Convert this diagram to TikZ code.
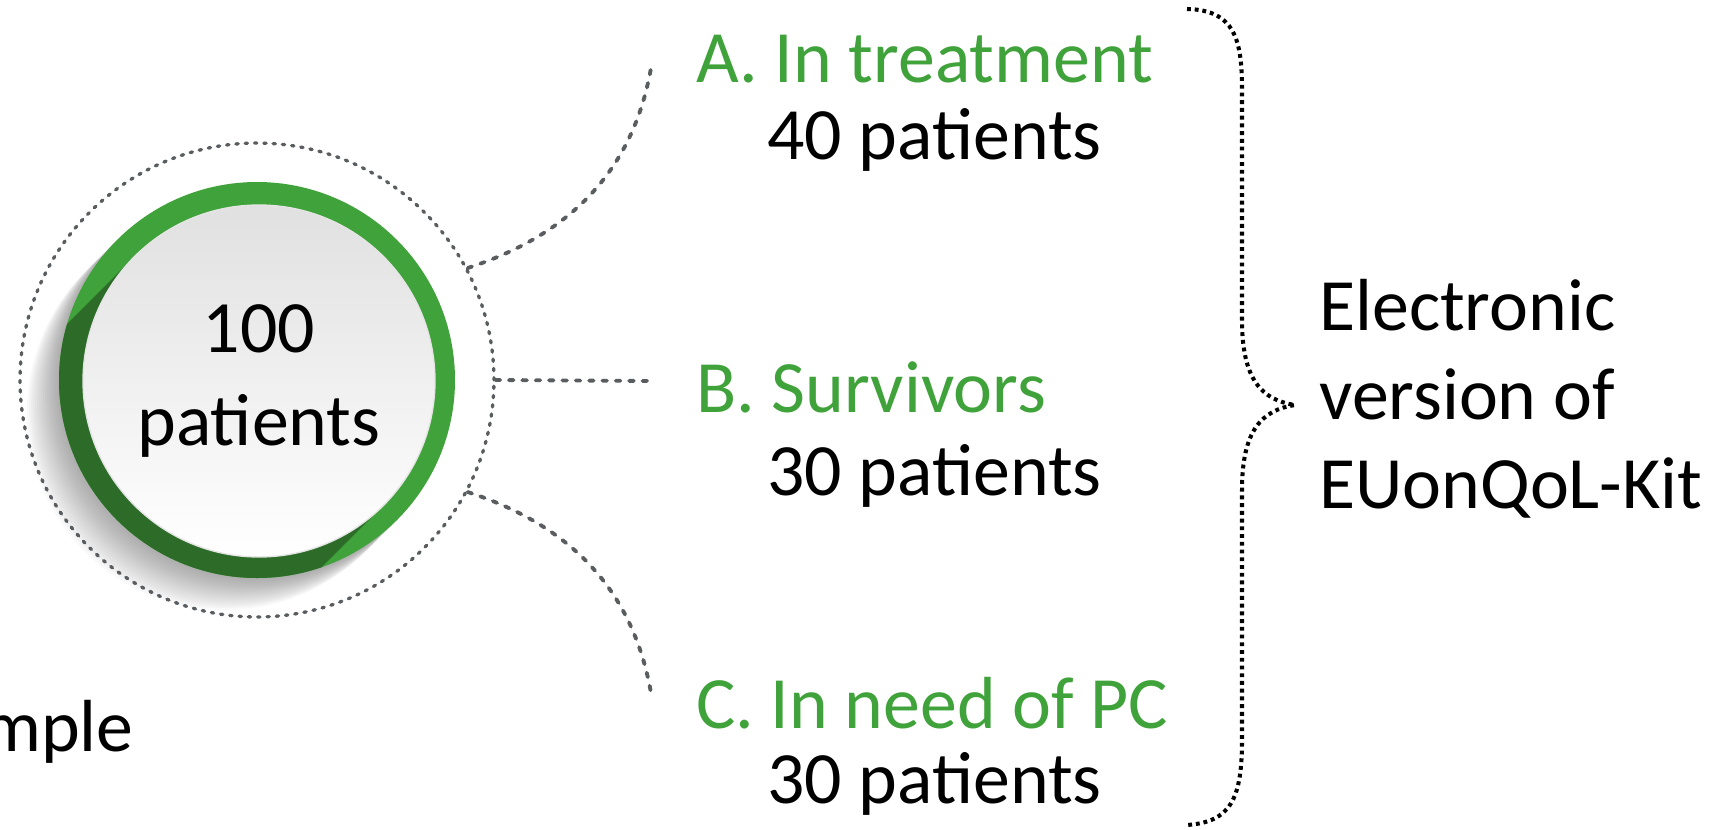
\documentclass[tikz,border=0pt]{standalone}
\usepackage{fontspec}
\setmainfont{Carlito}
\definecolor{ringgreen}{HTML}{40A23A}
\definecolor{shadegreen}{HTML}{2D6C28}
\definecolor{linkgray}{HTML}{595D60}
\tikzset{
  txt/.style={font=\fontsize{42}{50}\selectfont, inner sep=0pt, anchor=base west},
  grp/.style={txt, text=ringgreen},
  lnk/.style={draw=linkgray, line width=2.2pt, line cap=round, dash pattern=on 2.6pt off 5pt},
  ringdots/.style={draw=linkgray, line width=1.9pt, line cap=round, dash pattern=on 1.3pt off 4pt},
  bracedots/.style={draw=black, line width=2.3pt, dash pattern=on 2.2pt off 2.2pt}
}
\begin{document}
\begin{tikzpicture}[x=0.02cm, y=0.02cm]
  \useasboundingbox (0,0) rectangle (1724,-829);
  % soft shadow under the ring
  \foreach \k in {1,...,16}
    \fill[black, opacity=0.022] (257-2*\k,-380-2*\k) circle (198);
  \fill[ringgreen] (257,-380) circle (198);
  \begin{scope}
    \clip (257,-380) circle (198);
    \fill[shadegreen] (259,-381) ++(135:176) -- ++(225:160)
      arc[start angle=135, end angle=315, radius=176] -- ++(45:160) -- cycle;
  \end{scope}
  \node[circle, minimum size=7.04cm, inner sep=0pt, top color=gray!24, bottom color=white,
    draw=gray!20, line width=0.8pt, align=center, font=\fontsize{42}{49}\selectfont]
    (ctr) at (259,-381) {\raisebox{4pt}{100}\\patients};
  \node[circle, ringdots, minimum size=9.48cm, inner sep=0pt] (ring) at (257,-380) {};

  % links to the groups
  \coordinate (endA) at (651,-68);
  \coordinate (endB) at (653,-381);
  \coordinate (endC) at (651,-693);
  \draw[lnk] (ring.28) to[out=18, in=-100] (endA);
  \draw[lnk] (ring.east) -- (endB);
  \draw[lnk] (ring.-28) to[out=-18, in=100] (endC);

  \node[grp] (A) at (696,-82) {A. In treatment};
  \node[txt] (nA) at (767,-159) {40 patients};
  \node[grp] (B) at (696,-412) {B. Survivors};
  \node[txt] (nB) at (767,-495) {30 patients};
  \node[grp] (C) at (696,-728) {C. In need of PC};
  \node[txt] (nC) at (767,-803) {30 patients};
  \node[txt, align=left, font=\fontsize{42}{50.5}\selectfont] (kit) at (1319,-508) {Electronic\\version of\\EUonQoL-Kit};
  \node[txt, anchor=base east] (smp) at (134,-751) {mple};

  % brace
  \draw[bracedots] (1187,-9) .. controls (1235,-10) and (1242,-40) .. (1242,-90)
    -- (1242,-320) .. controls (1242,-380) and (1262,-400) .. (1295,-405)
    .. controls (1262,-410) and (1242,-430) .. (1242,-490)
    -- (1242,-740) .. controls (1242,-800) and (1230,-822) .. (1187,-825);
\end{tikzpicture}
\end{document}
